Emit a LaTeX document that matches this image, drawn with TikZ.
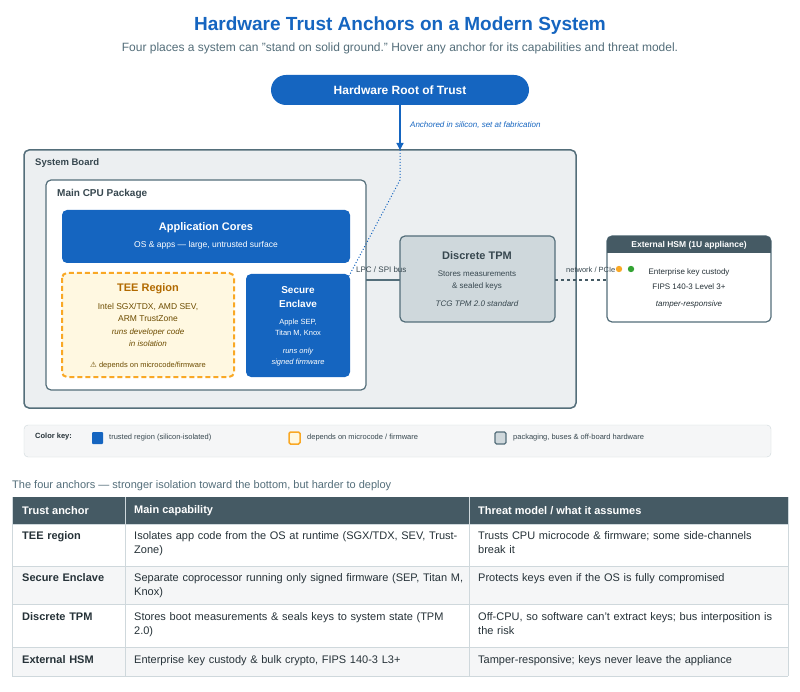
\documentclass[tikz,border=0pt]{standalone}
\usepackage{fontspec}
\setmainfont{Liberation Sans}
\newfontfamily\djv{DejaVu Sans}
\usetikzlibrary{arrows.meta}
\definecolor{tblue}{HTML}{1565C0}
\definecolor{slate}{HTML}{546E7A}
\definecolor{dslate}{HTML}{455A64}
\definecolor{bgboard}{HTML}{ECEFF1}
\definecolor{tpmfill}{HTML}{CFD8DC}
\definecolor{teefill}{HTML}{FFF8E1}
\definecolor{orng}{HTML}{F9A825}
\definecolor{teetxt}{HTML}{B26A00}
\definecolor{teebody}{HTML}{6D4C00}
\definecolor{dtxt}{HTML}{37474F}
\definecolor{gtxt}{HTML}{263238}
\definecolor{rowgray}{HTML}{F5F6F7}
\definecolor{grid}{HTML}{CFD8DC}
\begin{document}
\begin{tikzpicture}[x=1pt,y=-1pt,
  box/.style={rounded corners=5pt},
  lbl/.style={inner sep=0pt,anchor=west},
  ctr/.style={inner sep=0pt,align=center},
  cell/.style={inner sep=0pt,anchor=north west,text width=#1,align=left,font=\fontsize{11}{14}\selectfont,text=gtxt}]
\useasboundingbox (0,0) rectangle (800,692);
\fill[white] (0,0) rectangle (800,692);
\node[ctr,text=tblue,font=\bfseries\fontsize{19}{22}\selectfont] (title) at (400,26) {Hardware Trust Anchors on a Modern System};
\node[ctr,text=slate,font=\fontsize{12}{14}\selectfont] (sub) at (400,48) {Four places a system can "stand on solid ground." Hover any anchor for its capabilities and threat model.};
% root
\node[fill=tblue,rounded corners=15pt,minimum width=258pt,minimum height=30pt,text=white,font=\bfseries\fontsize{12}{14}\selectfont] (root) at (400,90) {Hardware Root of Trust};
% board
\draw[box,fill=bgboard,draw=slate,line width=1.5pt] (24,150) rectangle (576,408);
\coordinate (boardtop) at (400,150);
\node[lbl,text=dtxt,font=\bfseries\fontsize{9.5}{11}\selectfont] (blbl) at (35,163) {System Board};
\draw[box,fill=white,draw=slate,line width=1.2pt] (46,180) rectangle (366,390);
\node[lbl,text=dtxt,font=\bfseries\fontsize{10}{12}\selectfont] (clbl) at (57,194) {Main CPU Package};
\draw[box,fill=tblue,draw=none] (62,210) rectangle (350,263);
\node[ctr,text=white,font=\bfseries\fontsize{11}{13}\selectfont] (app) at (206,228) {Application Cores};
\node[ctr,text=white,font=\fontsize{8.5}{10}\selectfont] (appsub) at (206,245) {OS \& apps — large, untrusted surface};
\draw[box,fill=teefill,draw=orng,line width=2pt,dash pattern=on 5pt off 3pt] (62,273) rectangle (234,377);
\node[ctr,text=teetxt,font=\bfseries\fontsize{11}{13}\selectfont] (tee) at (148,289) {TEE Region};
\node[ctr,text=teebody,font=\fontsize{8.5}{12}\selectfont] (tee1) at (148,312) {Intel SGX/TDX, AMD SEV,\\ARM TrustZone};
\node[ctr,text=teebody,font=\itshape\fontsize{8}{12}\selectfont] (tee2) at (148,338) {runs developer code\\in isolation};
\node[ctr,text=teebody,font=\fontsize{7.5}{9}\selectfont] (tee3) at (148,366) {{\djv ⚠} depends on microcode/firmware};
\draw[box,fill=tblue,draw=none] (246,274) rectangle (350,377);
\coordinate (secne) at (349,276);
\node[ctr,text=white,font=\bfseries\fontsize{10}{14}\selectfont] (sec) at (298,297) {Secure\\Enclave};
\node[ctr,text=white,font=\fontsize{7.5}{11}\selectfont] (sec1) at (298,328) {Apple SEP,\\Titan M, Knox};
\node[ctr,text=white,font=\itshape\fontsize{7.5}{11}\selectfont] (sec2) at (298,357) {runs only\\signed firmware};
% TPM
\draw[box,fill=tpmfill,draw=slate,line width=1.2pt] (400,236) rectangle (555,322);
\coordinate (tpmw) at (400,280); \coordinate (tpme) at (555,280); \coordinate (cpue) at (366,280);
\node[ctr,text=dtxt,font=\bfseries\fontsize{11}{13}\selectfont] (tpm) at (477,256) {Discrete TPM};
\node[ctr,text=dtxt,font=\fontsize{8}{12}\selectfont] (tpm1) at (477,281) {Stores measurements\\\& sealed keys};
\node[ctr,text=dtxt,font=\itshape\fontsize{8}{10}\selectfont] (tpm2) at (477,304) {TCG TPM 2.0 standard};
% HSM
\draw[box,fill=white,draw=slate,line width=1.2pt] (607,236) rectangle (771,322);
\fill[dslate,rounded corners=5pt] (607,236) rectangle (771,253);
\fill[dslate] (607,245) rectangle (771,253);
\coordinate (hsmw) at (607,280);
\node[ctr,text=white,font=\bfseries\fontsize{8.5}{10}\selectfont] (hsm) at (689,245) {External HSM (1U appliance)};
\fill[orng] (619,269) circle (3.2pt);
\fill[green!55!black!80] (631,269) circle (3.2pt);
\node[ctr,text=gtxt,font=\fontsize{8}{10}\selectfont] (hsm1) at (689,272) {Enterprise key custody};
\node[ctr,text=gtxt,font=\fontsize{8}{10}\selectfont] (hsm2) at (689,287) {FIPS 140-3 Level 3+};
\node[ctr,text=gtxt,font=\itshape\fontsize{8}{10}\selectfont] (hsm3) at (689,304) {tamper-responsive};
% connectors
\draw[slate,line width=1.2pt] (cpue) -- (tpmw);
\node[lbl,text=dtxt,font=\fontsize{8}{10}\selectfont] (lpc) at (356,270) {LPC / SPI bus};
\draw[dslate,line width=1.5pt,dashed] (tpme) -- (hsmw);
\node[lbl,text=dtxt,font=\fontsize{7.5}{10}\selectfont] (net) at (566,270) {network / PCIe};
\draw[tblue,line width=1.3pt,-{Triangle[length=7pt,width=7pt]}] (root) -- (boardtop);
\node[lbl,text=tblue,font=\itshape\fontsize{8}{10}\selectfont] (anch) at (410,125) {Anchored in silicon, set at fabrication};
\draw[tblue,line width=1pt,dotted] (boardtop) -- (400,180) -- (secne);
% color key
\draw[rounded corners=4pt,fill=rowgray,draw=grid] (24,425) rectangle (771,457);
\node[lbl,text=gtxt,font=\bfseries\fontsize{7.5}{9}\selectfont] (ck) at (35,437) {Color key:};
\fill[tblue,rounded corners=1pt] (92,432) rectangle (103,444);
\node[lbl,text=dtxt,font=\fontsize{7.5}{9}\selectfont] (k1) at (109,438) {trusted region (silicon-isolated)};
\draw[orng,line width=1.5pt,rounded corners=1.5pt,fill=teefill] (289,432) rectangle (300,444);
\node[lbl,text=dtxt,font=\fontsize{7.5}{9}\selectfont] (k2) at (307,438) {depends on microcode / firmware};
\draw[slate,line width=1.2pt,rounded corners=1.5pt,fill=tpmfill] (495,432) rectangle (506,444);
\node[lbl,text=dtxt,font=\fontsize{7.5}{9}\selectfont] (k3) at (513,438) {packaging, buses \& off-board hardware};
% table
\node[lbl,text=slate,font=\fontsize{11}{13}\selectfont] (cap) at (12,486) {The four anchors — stronger isolation toward the bottom, but harder to deploy};
\fill[dslate] (12,497) rectangle (788,524);
\fill[rowgray] (12,566) rectangle (788,604);
\fill[rowgray] (12,647) rectangle (788,676);
\foreach \y in {524,566,604,647,676} \draw[grid] (12,\y) -- (788,\y);
\draw[grid] (12,497) -- (12,676) (788,497) -- (788,676);
\foreach \x in {125,469} \draw[grid] (\x,497) -- (\x,676);
\node[lbl,text=white,font=\bfseries\fontsize{11}{13}\selectfont] (h1) at (22,511) {Trust anchor};
\node[lbl,text=white,font=\bfseries\fontsize{11}{13}\selectfont] (h2) at (134,511) {Main capability};
\node[lbl,text=white,font=\bfseries\fontsize{11}{13}\selectfont] (h3) at (478,511) {Threat model / what it assumes};
\node[cell=100pt,font=\bfseries\fontsize{11}{14}\selectfont] (r1a) at (22,531) {TEE region};
\node[cell=330pt] (r1b) at (134,531) {Isolates app code from the OS at runtime (SGX/TDX, SEV, TrustZone)};
\node[cell=300pt] (r1c) at (478,531) {Trusts CPU microcode \& firmware; some side-channels break it};
\node[cell=100pt,font=\bfseries\fontsize{11}{14}\selectfont] (r2a) at (22,573) {Secure Enclave};
\node[cell=330pt] (r2b) at (134,573) {Separate coprocessor running only signed firmware (SEP, Titan M, Knox)};
\node[cell=300pt] (r2c) at (478,573) {Protects keys even if the OS is fully compromised};
\node[cell=100pt,font=\bfseries\fontsize{11}{14}\selectfont] (r3a) at (22,612) {Discrete TPM};
\node[cell=330pt] (r3b) at (134,612) {Stores boot measurements \& seals keys to system state (TPM 2.0)};
\node[cell=300pt] (r3c) at (478,612) {Off-CPU, so software can't extract keys; bus interposition is the risk};
\node[cell=100pt,font=\bfseries\fontsize{11}{14}\selectfont] (r4a) at (22,655) {External HSM};
\node[cell=330pt] (r4b) at (134,655) {Enterprise key custody \& bulk crypto, FIPS 140-3 L3+};
\node[cell=300pt] (r4c) at (478,655) {Tamper-responsive; keys never leave the appliance};
\end{tikzpicture}
\end{document}
